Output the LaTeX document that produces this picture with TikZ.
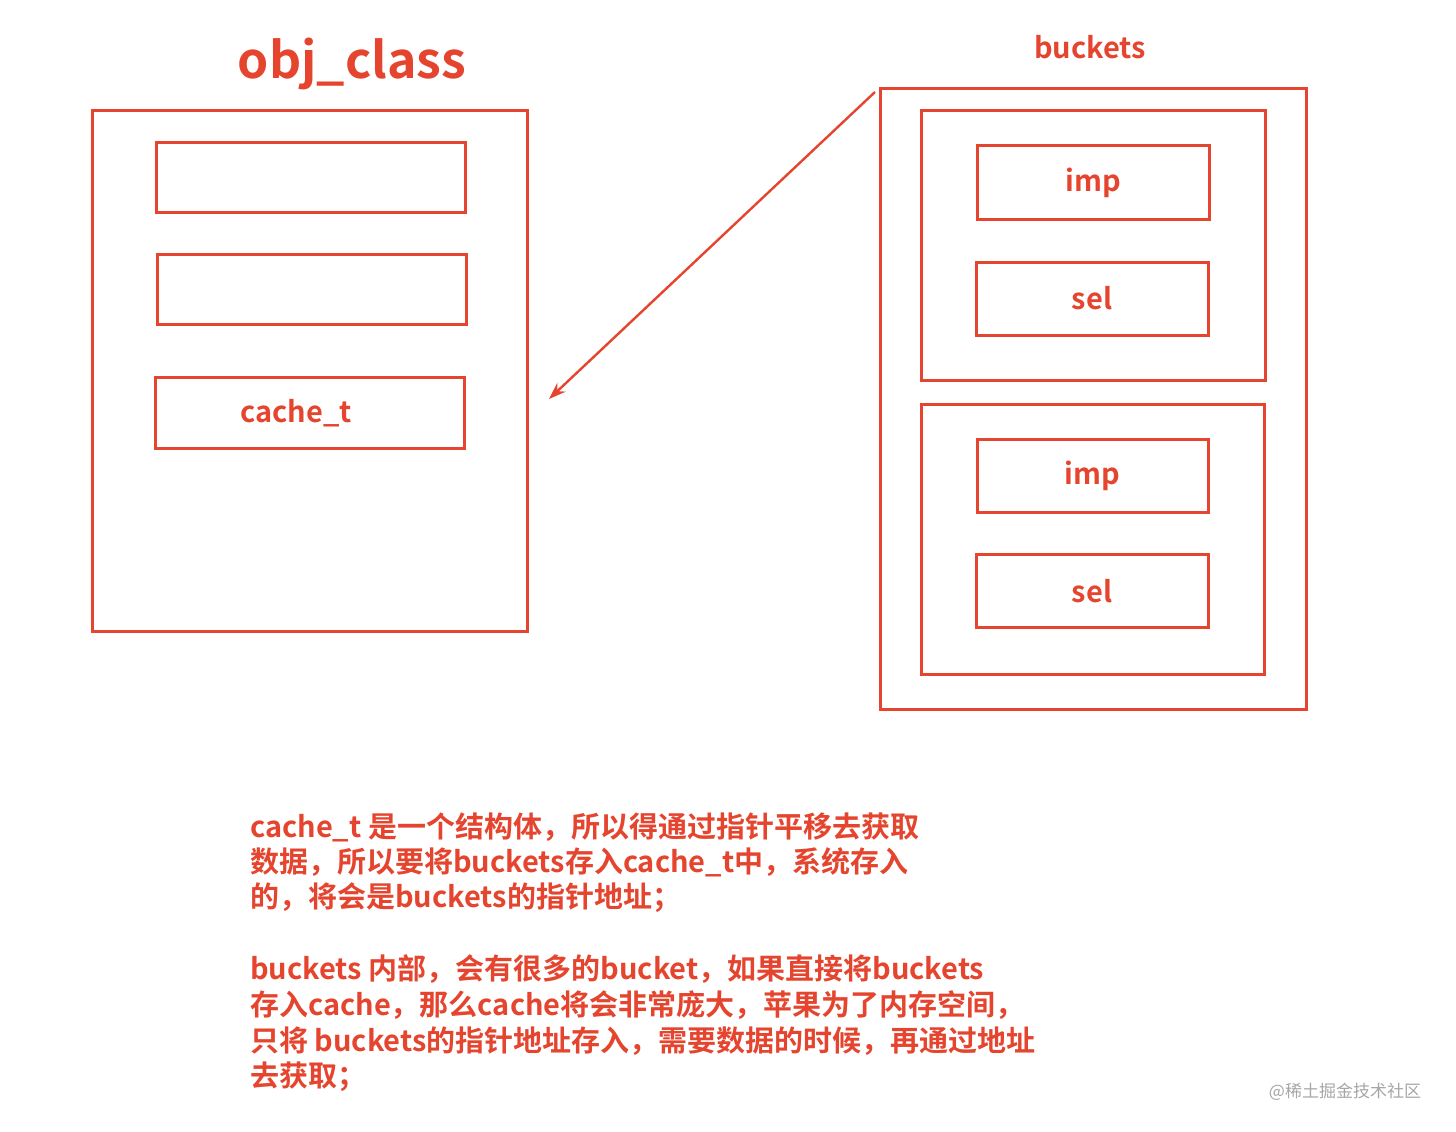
\documentclass[tikz,border=0pt]{standalone}
\usepackage{fontspec}
\setmainfont{Noto Sans CJK SC}[BoldFont={Noto Sans CJK SC Bold}]
\usetikzlibrary{arrows.meta}
\definecolor{rd}{HTML}{E5452E}
\begin{document}
\begin{tikzpicture}[x=1pt,y=-1pt,
  bx/.style={draw=rd,line width=3pt},
  lbl/.style={text=rd,font=\bfseries\fontsize{29}{32}\selectfont},
  note/.style={text=rd,anchor=west,inner sep=0pt,font=\bfseries\fontsize{29}{32}\selectfont}]
\useasboundingbox (0,0) rectangle (1456,1132);
\node[lbl,font=\bfseries\fontsize{50}{54}\selectfont] (title) at (352,64) {obj\_class};
\draw[bx] (92,110) rectangle (527,631);
\draw[bx] (156,142) rectangle (465,212);
\draw[bx] (157,254) rectangle (466,324);
\draw[bx] (155,377) rectangle (464,448);
\node[lbl] (ct) at (296,413) {cache\_t};
\node[lbl] (bk) at (1090,47) {buckets};
\draw[bx] (880,88) rectangle (1306,709);
\draw[bx] (921,110) rectangle (1265,380);
\draw[bx] (977,145) rectangle (1209,219);
\node[lbl] (i1) at (1093,183) {imp};
\draw[bx] (976,262) rectangle (1208,335);
\node[lbl] (s1) at (1092,298) {sel};
\draw[bx] (921,404) rectangle (1264,674);
\draw[bx] (977,439) rectangle (1208,512);
\node[lbl] (i2) at (1092,476) {imp};
\draw[bx] (976,554) rectangle (1208,627);
\node[lbl] (s2) at (1092,591) {sel};
\coordinate (a1) at (875,92);
\coordinate (a2) at (549,399);
\draw[draw=rd,line width=2.4pt,-{Stealth[length=17pt,width=12pt]}] (a1) -- (a2);
\node[note] (n1) at (250,827) {cache\_t 是一个结构体，所以得通过指针平移去获取};
\node[note] (n2) at (250,862) {数据，所以要将buckets存入cache\_t中，系统存入};
\node[note] (n3) at (250,898) {的，将会是buckets的指针地址；};
\node[note] (n4) at (250,969) {buckets 内部，会有很多的bucket，如果直接将buckets};
\node[note] (n5) at (250,1005) {存入cache，那么cache将会非常庞大，苹果为了内存空间，};
\node[note] (n6) at (250,1041) {只将 buckets的指针地址存入，需要数据的时候，再通过地址};
\node[note] (n7) at (250,1077) {去获取；};
\node[text=gray!70,font=\fontsize{17}{20}\selectfont] (wm) at (1345,1092) {@稀土掘金技术社区};
\end{tikzpicture}
\end{document}
